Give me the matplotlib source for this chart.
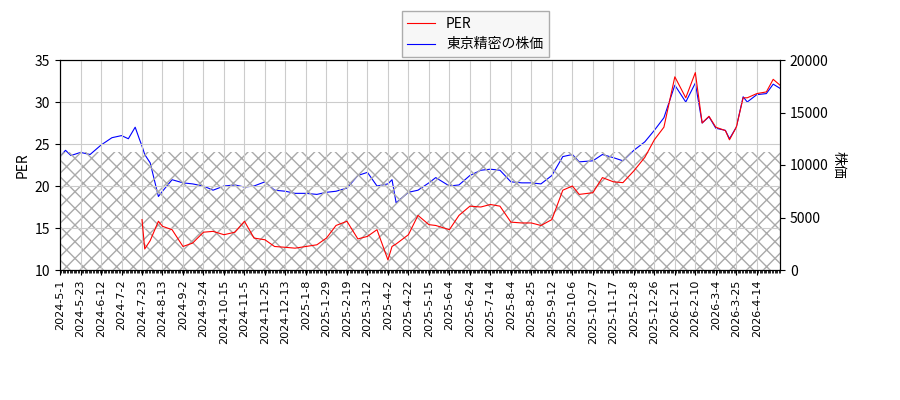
import matplotlib
matplotlib.use("Agg")
import matplotlib.pyplot as plt
import numpy as np

plt.rcParams['font.family'] = ['Noto Sans CJK JP', 'DejaVu Sans']

tick_labels = ["2024-5-1","2024-5-23","2024-6-12","2024-7-2","2024-7-23","2024-8-13","2024-9-2",
               "2024-9-24","2024-10-15","2024-11-5","2024-11-25","2024-12-13","2025-1-8","2025-1-29",
               "2025-2-19","2025-3-12","2025-4-2","2025-4-22","2025-5-15","2025-6-4","2025-6-24",
               "2025-7-14","2025-8-4","2025-8-25","2025-9-12","2025-10-6","2025-10-27","2025-11-17",
               "2025-12-8","2025-12-26","2026-1-21","2026-2-10","2026-3-4","2026-3-25","2026-4-14"]

# trading-day index of each sample (15 trading days between labelled ticks)
day_idx = [0, 4, 8, 15, 22, 30, 38, 45, 50, 55, 58, 60, 62, 66, 72, 75, 82, 90, 97, 105, 112, 120, 128,
           135, 142, 150, 157, 165, 172, 180, 188, 195, 202, 210, 218, 225, 232, 240, 243, 246, 255,
           262, 270, 275, 285, 292, 300, 308, 315, 322, 330, 338, 345, 352, 360, 368, 375, 380, 390,
           397, 405, 412, 420, 428, 435, 442, 450, 458, 465, 470, 475, 480, 487, 490, 495, 500, 503,
           510, 517, 522, 527]
price = [10800, 11400, 10900, 11200, 11000, 11900, 12600, 12800, 12500, 13600, 12500, 11800, 11000,
         10200, 7000, 7500, 8600, 8300, 8200, 8000, 7600, 8000, 8100, 7900, 8000, 8400, 7600, 7500,
         7300, 7300, 7200, 7400, 7500, 7800, 9000, 9300, 8000, 8200, 8600, 6400, 7400, 7600, 8300,
         8800, 8000, 8100, 9000, 9500, 9600, 9500, 8400, 8300, 8300, 8200, 9000, 10800, 11000, 10300,
         10400, 11000, 10700, 10400, 11400, 12200, 13300, 14500, 17600, 16000, 17800, 14000, 14600,
         13500, 13300, 12500, 13600, 16500, 16000, 16700, 16800, 17700, 17300]
per = [None]*11 + [16.0, 12.5, 13.5, 15.8, 15.2, 14.8, 12.8, 13.2, 14.5, 14.6, 14.2, 14.5, 15.8,
       13.8, 13.6, 12.8, 12.7, 12.6, 12.8, 13.0, 13.8, 15.3, 15.8, 13.7, 14.0, 14.8, 11.2, 12.8,
       13.1, 14.2, 16.5, 15.4, 15.3, 14.8, 16.5, 17.6, 17.5, 17.8, 17.6, 15.7, 15.6, 15.6, 15.3,
       16.0, 19.5, 20.0, 19.0, 19.2, 21.0, 20.5, 20.4, 21.8, 23.4, 25.5, 27.0, 33.0, 30.5, 33.5,
       27.5, 28.3, 27.0, 26.6, 25.5, 27.0, 30.5, 30.5, 31.0, 31.2, 32.7, 32.0]

fig, ax = plt.subplots(figsize=(9, 4), dpi=100)
fig.subplots_adjust(left=0.0667, right=0.8667, top=0.85, bottom=0.325)
ax2 = ax.twinx()

pairs_per = [(d, p) for d, p in zip(day_idx, per) if p is not None]
pairs_pr = list(zip(day_idx, price))
l1, = ax.plot([a for a, b in pairs_per], [b for a, b in pairs_per], color='red', lw=0.8)
l2, = ax2.plot([a for a, b in pairs_pr], [b for a, b in pairs_pr], color='blue', lw=0.8)

xmax = day_idx[-1]
ax.fill_between([0, xmax], 10, 24, facecolor='none', edgecolor='#aaaaaa', hatch='xx', lw=0)
ax.set_xlim(0, xmax)
ax.set_ylim(10, 35)
ax2.set_ylim(0, 20000)
ax.set_yticks([10, 15, 20, 25, 30, 35])
ax2.set_yticks([0, 5000, 10000, 15000, 20000])
ticks = [15*i for i in range(len(tick_labels))]
ax.set_xticks(ticks)
ax.set_xticklabels(tick_labels, rotation=90, fontsize=8, family=['DejaVu Sans'])
ax.xaxis.set_minor_locator(matplotlib.ticker.MultipleLocator(1))
ax.tick_params(axis='x', which='minor', length=2)
ax.grid(True, color='#cccccc', lw=0.8)
ax.set_ylabel('PER')
ax2.set_ylabel('株価', rotation=-90, labelpad=12)
ax.set_zorder(ax2.get_zorder()+1)
ax.patch.set_visible(False)
fig.legend([l1, l2], ['PER', '東京精密の株価'], loc='upper center', bbox_to_anchor=(0.528, 0.99),
           fancybox=False, edgecolor='#999999', facecolor='#f5f5f5')
fig.savefig('out.png')
